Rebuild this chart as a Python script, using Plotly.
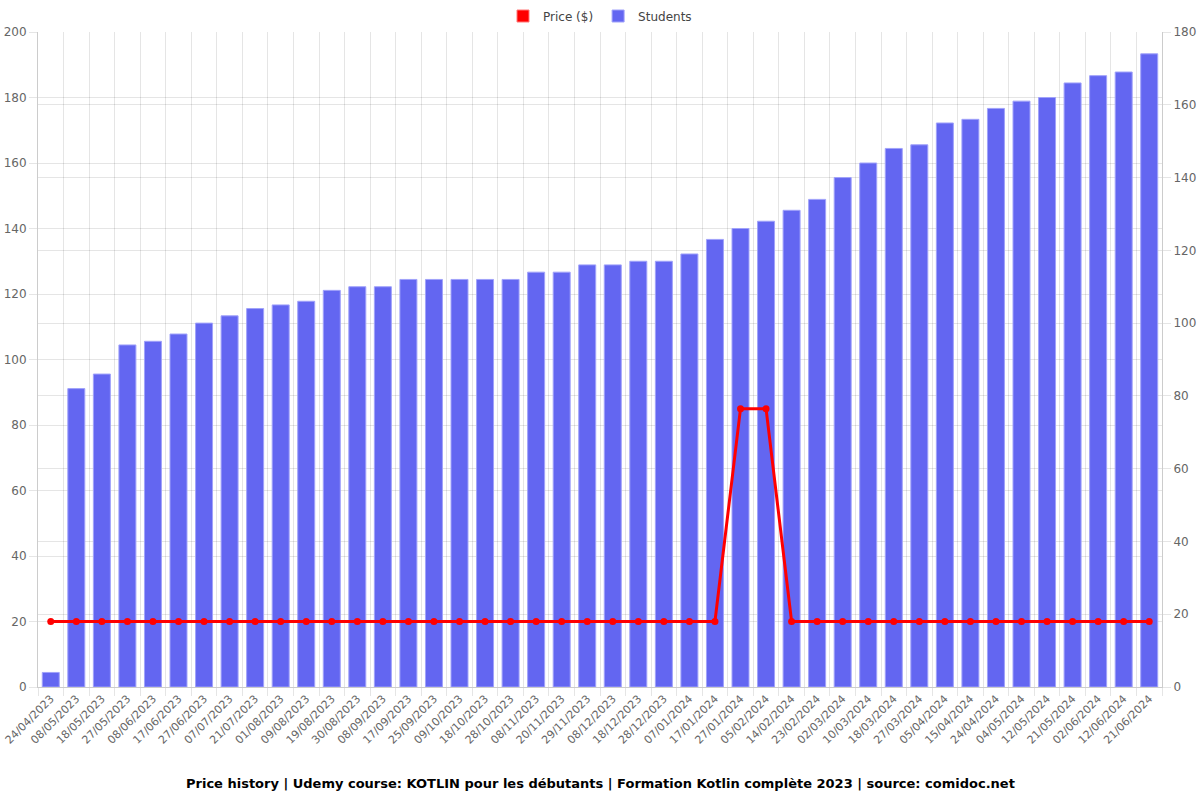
import plotly.graph_objects as go

dates = ["24/04/2023", "08/05/2023", "18/05/2023", "27/05/2023", "08/06/2023", "17/06/2023",
         "27/06/2023", "07/07/2023", "21/07/2023", "01/08/2023", "09/08/2023", "19/08/2023",
         "30/08/2023", "08/09/2023", "17/09/2023", "25/09/2023", "09/10/2023", "18/10/2023",
         "28/10/2023", "08/11/2023", "20/11/2023", "29/11/2023", "08/12/2023", "18/12/2023",
         "28/12/2023", "07/01/2024", "17/01/2024", "27/01/2024", "05/02/2024", "14/02/2024",
         "23/02/2024", "02/03/2024", "10/03/2024", "18/03/2024", "27/03/2024", "05/04/2024",
         "15/04/2024", "24/04/2024", "04/05/2024", "12/05/2024", "21/05/2024", "02/06/2024",
         "12/06/2024", "21/06/2024"]

students = [4, 82, 86, 94, 95, 97, 100, 102, 104, 105, 106, 109, 110, 110, 112, 112, 112, 112,
            112, 114, 114, 116, 116, 117, 117, 119, 123, 126, 128, 131, 134, 140, 144, 148, 149,
            155, 156, 159, 161, 162, 166, 168, 169, 174]

price = [19.99] * 27 + [84.99, 84.99] + [19.99] * 15

title = ("Price history | Udemy course: KOTLIN pour les débutants | "
         "Formation Kotlin complète 2023 | source: comidoc.net")

font_family = "DejaVu Sans, sans-serif"
grid = "rgba(0,0,0,0.1)"

fig = go.Figure()

# legend-only swatch for price (box style)
fig.add_trace(go.Bar(x=[dates[0]], y=[None], name="Price ($)",
                     marker=dict(color="#ff0000", line=dict(color="rgba(255,120,120,1)", width=1)),
                     yaxis="y", showlegend=True, legendrank=1, hoverinfo="skip"))

# bars on primary y (displayed on right side, 0-180)
fig.add_trace(go.Bar(x=dates, y=students, name="Students", yaxis="y",
                     marker=dict(color="#6366f1", line=dict(color="rgba(160,162,250,1)", width=1)),
                     legendrank=2))

# price on overlaying y2 (displayed on left side, 0-200), drawn above bars
fig.add_trace(go.Scatter(x=dates, y=price, name="Price ($)", yaxis="y2", mode="lines+markers",
                         line=dict(color="#ff0000", width=3),
                         marker=dict(color="#ff0000", size=7),
                         showlegend=False))

fig.update_layout(
    width=1200, height=800,
    margin=dict(l=38, r=38, t=32, b=113, autoexpand=False),
    paper_bgcolor="white", plot_bgcolor="white",
    font=dict(family=font_family, size=12, color="#666"),
    barmode="overlay", bargap=0.335,
    showlegend=True,
    legend=dict(orientation="h", x=0.5, xanchor="center", y=1 + 16 / 655, yanchor="middle",
                font=dict(size=12, color="#444"), traceorder="normal"),
    xaxis=dict(type="category", range=[-0.5, len(dates) - 0.5], tickangle=-45,
               tickson="boundaries", ticks="outside", automargin=False,
               ticklen=8, tickcolor=grid, showgrid=True, gridcolor=grid,
               showline=True, linecolor="rgba(0,0,0,0.2)", tickfont=dict(size=11, color="#666")),
    yaxis=dict(range=[0, 180], dtick=20, side="right", showgrid=True, gridcolor=grid,
               ticks="outside", ticklen=8, tickcolor=grid, showline=True, automargin=False,
               linecolor="rgba(0,0,0,0.2)", zeroline=False, tickfont=dict(size=12, color="#666")),
    yaxis2=dict(range=[0, 200], dtick=20, overlaying="y", side="left", showgrid=True,
                gridcolor=grid, ticks="outside", ticklen=8, tickcolor=grid, showline=True,
                automargin=False,
                linecolor="rgba(0,0,0,0.2)", zeroline=False, tickfont=dict(size=12, color="#666")),
    annotations=[dict(text="<b>" + title + "</b>", x=0.5, xref="paper",
                      y=-(783 - 687) / 655, yref="paper", yanchor="middle",
                      showarrow=False, font=dict(size=13, color="#000"))],
)

fig.write_html("out.html")
